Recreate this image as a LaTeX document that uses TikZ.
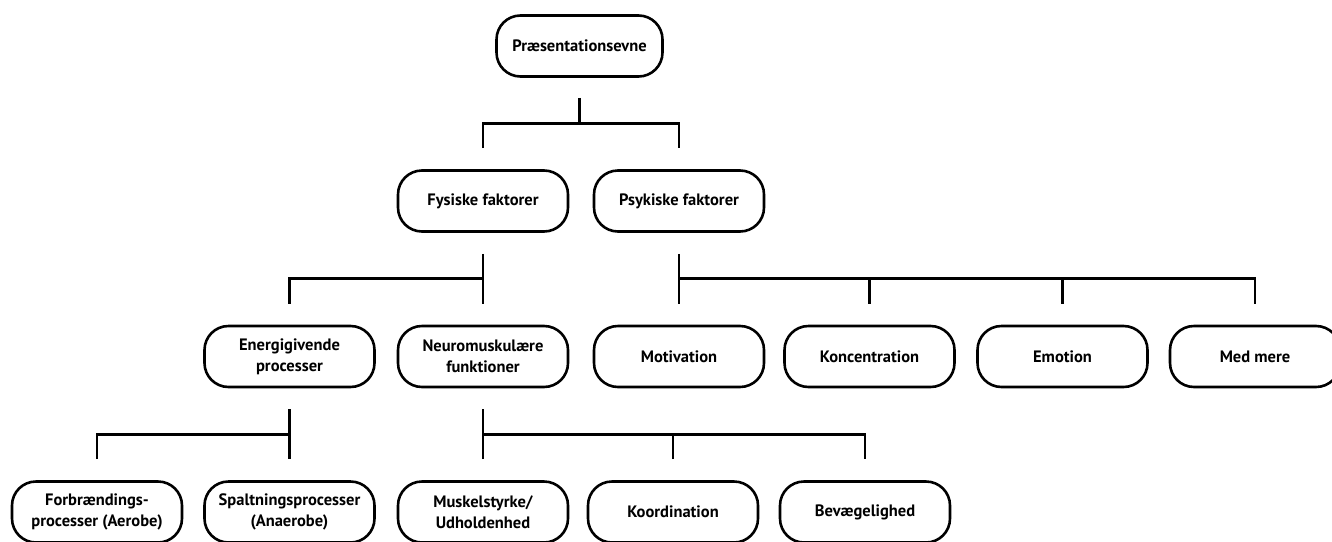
\documentclass[tikz,border=0pt]{standalone}
\usepackage{fontspec}
\setmainfont{PT Sans}
\usetikzlibrary{calc}
\tikzset{
  box/.style={draw=black, line width=2.6pt, rounded corners=24pt, fill=white,
    minimum width=170pt, minimum height=61pt, inner sep=2pt, align=center,
    font=\fontsize{16.5}{21}\selectfont\bfseries},
  conn/.style={draw=black, line width=2.6pt}
}
\begin{document}
\begin{tikzpicture}[x=1pt,y=-1pt]
\clip (0,0) rectangle (1332,541);
\fill[white] (0,0) rectangle (1332,541);
% row 1
\node[box, minimum width=166pt] (P) at (579.5,46) {Præsentationsevne};
% row 2
\node[box] (F) at (483,201) {Fysiske faktorer};
\node[box] (Ps) at (679,201) {Psykiske faktorer};
% row 3
\node[box] (E) at (289.5,356.5) {Energigivende\\processer};
\node[box] (N) at (483,356.5) {Neuromuskulære\\funktioner};
\node[box] (M) at (679,356.5) {Motivation};
\node[box] (K) at (869.5,356.5) {Koncentration};
\node[box] (Em) at (1062.5,356.5) {Emotion};
\node[box] (MM) at (1255,356.5) {Med mere};
% row 4
\node[box] (Fo) at (97,512) {Forbrændings-\\processer (Aerobe)};
\node[box] (Sp) at (289.5,512) {Spaltningsprocesser\\(Anaerobe)};
\node[box] (Mu) at (483,512) {Muskelstyrke/\\Udholdenhed};
\node[box] (Ko) at (673,512) {Koordination};
\node[box] (Be) at (865,512) {Bevægelighed};
% connectors row 1 -> 2
\draw[conn] ([yshift=-20pt]P.south) -- ([yshift=-46pt]P.south);
\draw[conn] ([yshift=21pt]F.north) -- ++(0,-25) -| ([yshift=21pt]Ps.north);
% row 2 -> 3 (Fysiske)
\draw[conn] ([yshift=-21pt]F.south) -- ([yshift=21pt]N.north);
\draw[conn] ([yshift=21pt]E.north) -- ++(0,-25) -| ([yshift=21pt]N.north);
% row 2 -> 3 (Psykiske)
\draw[conn] ([yshift=-21pt]Ps.south) -- ([yshift=21pt]M.north);
\draw[conn] ([yshift=21pt]M.north) -- ++(0,-25) -| ([yshift=21pt]MM.north);
\draw[conn] ([yshift=21pt]K.north) -- ++(0,-25);
\draw[conn] ([yshift=21pt]Em.north) -- ++(0,-25);
% row 3 -> 4 (Energigivende)
\draw[conn] ([yshift=-21pt]E.south) -- ([yshift=21pt]Sp.north);
\draw[conn] ([yshift=21pt]Fo.north) -- ++(0,-25) -| ([yshift=21pt]Sp.north);
% row 3 -> 4 (Neuromuskulaere)
\draw[conn] ([yshift=-21pt]N.south) -- ([yshift=21pt]Mu.north);
\draw[conn] ([yshift=21pt]Mu.north) -- ++(0,-25) -| ([yshift=21pt]Be.north);
\draw[conn] ([yshift=21pt]Ko.north) -- ++(0,-25);
\end{tikzpicture}
\end{document}
